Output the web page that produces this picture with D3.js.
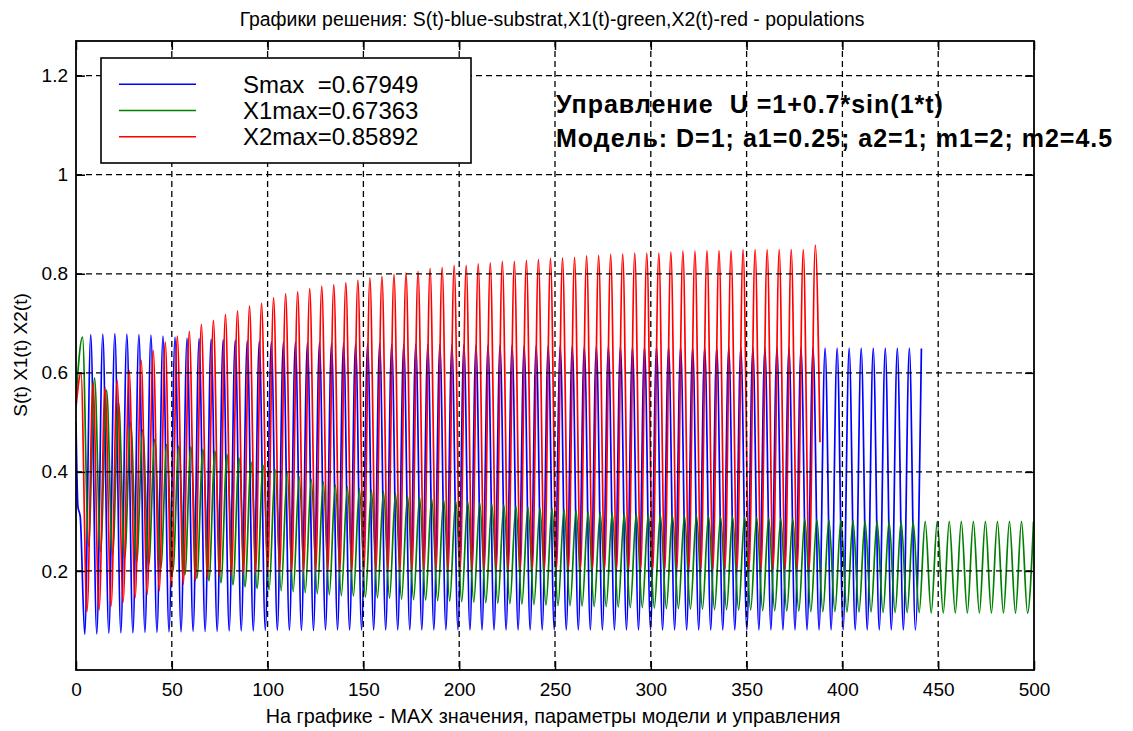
<!DOCTYPE html>
<html>
<head>
<meta charset="utf-8">
<script src="https://cdn.jsdelivr.net/npm/d3@7"></script>
<style>
    body { margin: 0; background: #fff; }
    text { font-family: Arial, "Liberation Sans", sans-serif; fill: #000; }
</style>
</head>
<body>
<script>
"use strict";

// period of the control U = 1+0.7*sin(1*t)
const period = 6.283;

// time of the first peak of every series, and its starting points
const bluePhase  = 7.7;
const greenPhase = 3.4;
const redPhase   = 2.6;
const blueStart  = [[0, 0.50], [1.0, 0.33], [2.2, 0.31]];
const greenStart = [[0, 0.55]];
const redStart   = [[0, 0.53]];
const redEnd     = [[388.3, 0.46]];

// S(t) - blue, per oscillation
const bluePeaks = [
    0.677, 0.678, 0.679, 0.678, 0.677, 0.676, 0.674, 0.672, 0.670, 0.669,
    0.668, 0.667, 0.666, 0.665, 0.664, 0.663, 0.662, 0.662, 0.661, 0.661,
    0.660, 0.660, 0.659, 0.659, 0.659, 0.658, 0.658, 0.658, 0.657, 0.657,
    0.657, 0.657, 0.656, 0.656, 0.656, 0.656, 0.655, 0.655, 0.655, 0.655,
    0.655, 0.654, 0.654, 0.654, 0.654, 0.653, 0.653, 0.653, 0.653, 0.653,
    0.652, 0.652, 0.652, 0.652, 0.652, 0.651, 0.651, 0.651, 0.651, 0.651,
    0.651, 0.650, 0.650, 0.650, 0.650, 0.650, 0.650, 0.650, 0.650, 0.649
];
const blueTroughs = [
    0.072, 0.073, 0.074, 0.075, 0.075, 0.076, 0.076, 0.077, 0.077, 0.078,
    0.078, 0.078, 0.079, 0.079, 0.079, 0.080, 0.080, 0.080, 0.080, 0.080,
    0.081, 0.081, 0.081, 0.081, 0.081, 0.081, 0.081, 0.081, 0.081, 0.081,
    0.081, 0.081, 0.081, 0.081, 0.081, 0.081, 0.081, 0.081, 0.081, 0.081,
    0.081, 0.081, 0.081, 0.081, 0.081, 0.081, 0.081, 0.081, 0.081, 0.081,
    0.081, 0.081, 0.081, 0.081, 0.081, 0.081, 0.081, 0.081, 0.081, 0.081,
    0.081, 0.081, 0.081, 0.081, 0.081, 0.081, 0.081, 0.081, 0.081, 0.081
];

// X1(t) - green
const greenPeaks = [
    0.672, 0.590, 0.565, 0.540, 0.500, 0.485, 0.465, 0.455, 0.452, 0.450,
    0.445, 0.442, 0.435, 0.428, 0.420, 0.413, 0.405, 0.398, 0.390, 0.385,
    0.380, 0.374, 0.370, 0.366, 0.363, 0.360, 0.356, 0.352, 0.349, 0.347,
    0.344, 0.342, 0.340, 0.337, 0.335, 0.333, 0.331, 0.329, 0.327, 0.326,
    0.324, 0.322, 0.320, 0.318, 0.317, 0.316, 0.316, 0.315, 0.314, 0.313,
    0.312, 0.312, 0.311, 0.310, 0.309, 0.309, 0.308, 0.307, 0.306, 0.305,
    0.305, 0.304, 0.303, 0.302, 0.302, 0.301, 0.300, 0.300, 0.300, 0.300,
    0.300, 0.300, 0.300, 0.300, 0.300, 0.300, 0.300, 0.300, 0.300, 0.300
];
const greenTroughs = [
    0.250, 0.240, 0.232, 0.225, 0.218, 0.212, 0.205, 0.198, 0.192, 0.185,
    0.180, 0.176, 0.172, 0.168, 0.165, 0.162, 0.160, 0.158, 0.156, 0.154,
    0.152, 0.150, 0.149, 0.147, 0.146, 0.145, 0.143, 0.142, 0.141, 0.140,
    0.139, 0.138, 0.137, 0.136, 0.135, 0.134, 0.133, 0.132, 0.131, 0.130,
    0.130, 0.129, 0.128, 0.128, 0.127, 0.126, 0.126, 0.125, 0.124, 0.124,
    0.123, 0.123, 0.122, 0.122, 0.121, 0.121, 0.120, 0.120, 0.119, 0.119,
    0.118, 0.118, 0.118, 0.117, 0.117, 0.117, 0.116, 0.116, 0.116, 0.116,
    0.115, 0.115, 0.115, 0.115, 0.115, 0.115, 0.115, 0.115, 0.115
];

// X2(t) - red
const redPeaks = [
    0.600, 0.580, 0.570, 0.585, 0.605, 0.625, 0.645, 0.662, 0.674, 0.684,
    0.698, 0.706, 0.718, 0.725, 0.735, 0.741, 0.752, 0.760, 0.764, 0.770,
    0.775, 0.778, 0.782, 0.787, 0.792, 0.795, 0.799, 0.802, 0.805, 0.811,
    0.813, 0.817, 0.817, 0.820, 0.822, 0.825, 0.825, 0.827, 0.829, 0.831,
    0.832, 0.833, 0.836, 0.837, 0.839, 0.840, 0.842, 0.842, 0.842, 0.844,
    0.846, 0.846, 0.847, 0.847, 0.847, 0.849, 0.849, 0.849, 0.849, 0.849,
    0.849, 0.858
];
const redTroughs = [
    0.118, 0.121, 0.129, 0.137, 0.146, 0.153, 0.160, 0.167, 0.174, 0.180,
    0.185, 0.189, 0.192, 0.194, 0.196, 0.197, 0.198, 0.199, 0.199, 0.200,
    0.200, 0.200, 0.201, 0.201, 0.201, 0.202, 0.202, 0.202, 0.202, 0.203,
    0.203, 0.203, 0.203, 0.203, 0.204, 0.204, 0.204, 0.204, 0.204, 0.204,
    0.205, 0.205, 0.205, 0.205, 0.205, 0.205, 0.205, 0.205, 0.205, 0.205,
    0.205, 0.205, 0.205, 0.205, 0.205, 0.205, 0.205, 0.205, 0.205, 0.205,
    0.205
];

const xTicks = [0, 50, 100, 150, 200, 250, 300, 350, 400, 450, 500];
const yTicks = [0.2, 0.4, 0.6, 0.8, 1, 1.2];
const yTickLabels = ["0.2", "0.4", "0.6", "0.8", "1", "1.2"];
const legendLabels = ["Smax  =0.67949", "X1max=0.67363", "X2max=0.85892"];
const seriesColors = ["#0000ff", "#008000", "#ff0000"];
const titleText = "Графики решения: S(t)-blue-substrat,X1(t)-green,X2(t)-red - populations";
const xLabelText = "На графике - MAX значения, параметры модели и управления";
const yLabelText = "S(t) X1(t) X2(t)";
const noteLines = ["Управление  U =1+0.7*sin(1*t)",
                   "Модель: D=1; a1=0.25; a2=1; m1=2; m2=4.5"];

// ---------------------------------------------------------------
const width = 1133, height = 731;
const plot = { left: 76, top: 41, right: 1034, bottom: 670 };

// troughs sit half a period away from the peaks
function buildSeries(start, phase, peaks, troughs, troughFirst, end) {
    const pts = start.slice();
    peaks.forEach((p, k) => {
        const tp = phase + k * period;
        if (troughFirst) pts.push([tp - period / 2, troughs[k]]);
        pts.push([tp, p]);
        if (!troughFirst && k < troughs.length) pts.push([tp + period / 2, troughs[k]]);
    });
    return pts.concat(end || []);
}

const series = [
    buildSeries(blueStart, bluePhase, bluePeaks, blueTroughs, true),
    buildSeries(greenStart, greenPhase, greenPeaks, greenTroughs, false),
    buildSeries(redStart, redPhase, redPeaks, redTroughs, false, redEnd)
];

const x = d3.scaleLinear().domain([0, 500]).range([plot.left, plot.right]);
const y = d3.scaleLinear().domain([0, 1.27]).range([plot.bottom, plot.top]);

const svg = d3.select("body").append("svg")
              .attr("width", width)
              .attr("height", height);
svg.append("rect").attr("width", width).attr("height", height).attr("fill", "#fff");

svg.append("clipPath").attr("id", "clip")
   .append("rect")
   .attr("x", plot.left).attr("y", plot.top)
   .attr("width", plot.right - plot.left)
   .attr("height", plot.bottom - plot.top);

const line = d3.line()
               .x(d => x(d[0]))
               .y(d => y(d[1]))
               .curve(d3.curveMonotoneX);

svg.append("g")
   .attr("clip-path", "url(#clip)")
   .selectAll("path")
   .data(series)
   .join("path")
   .attr("d", line)
   .attr("fill", "none")
   .attr("stroke", (d, i) => seriesColors[i])
   .attr("stroke-width", 1.7)
   .attr("stroke-linejoin", "round");

// dashed grid, drawn over the curves like the original
const grid = svg.append("g")
                .attr("stroke", "#000")
                .attr("stroke-width", 1.3)
                .attr("stroke-dasharray", "6,4");
grid.selectAll("line.gx")
    .data(xTicks.slice(1, -1))
    .join("line")
    .attr("x1", d => x(d)).attr("x2", d => x(d))
    .attr("y1", plot.top).attr("y2", plot.bottom);
grid.selectAll("line.gy")
    .data(yTicks)
    .join("line")
    .attr("x1", plot.left).attr("x2", plot.right)
    .attr("y1", d => y(d)).attr("y2", d => y(d));

// axes with inward ticks
const tickFont = g => g.selectAll("text")
                       .style("font-family", "Arial, 'Liberation Sans', sans-serif")
                       .style("font-size", "19px")
                       .attr("fill", "#000");
const noDomain = g => g.select(".domain").remove();

svg.append("g")
   .attr("transform", `translate(0,${plot.bottom})`)
   .call(d3.axisBottom(x).tickValues(xTicks).tickSizeInner(-9).tickSizeOuter(0).tickPadding(13))
   .call(noDomain).call(tickFont)
   .selectAll("line").attr("stroke", "#000").attr("stroke-width", 1.5);
svg.append("g")
   .attr("transform", `translate(0,${plot.top})`)
   .call(d3.axisTop(x).tickValues(xTicks).tickSizeInner(-9).tickSizeOuter(0).tickFormat(""))
   .call(noDomain)
   .selectAll("line").attr("stroke", "#000").attr("stroke-width", 1.5);
svg.append("g")
   .attr("transform", `translate(${plot.left},0)`)
   .call(d3.axisLeft(y).tickValues(yTicks).tickSizeInner(-9).tickSizeOuter(0).tickPadding(8)
           .tickFormat((d, i) => yTickLabels[i]))
   .call(noDomain).call(tickFont)
   .selectAll("line").attr("stroke", "#000").attr("stroke-width", 1.5);
svg.append("g")
   .attr("transform", `translate(${plot.right},0)`)
   .call(d3.axisRight(y).tickValues(yTicks).tickSizeInner(-9).tickSizeOuter(0).tickFormat(""))
   .call(noDomain)
   .selectAll("line").attr("stroke", "#000").attr("stroke-width", 1.5);

svg.append("rect")
   .attr("x", plot.left).attr("y", plot.top)
   .attr("width", plot.right - plot.left)
   .attr("height", plot.bottom - plot.top)
   .attr("fill", "none")
   .attr("stroke", "#000")
   .attr("stroke-width", 1.8);

// titles
svg.append("text")
   .attr("x", 552).attr("y", 25.5)
   .attr("text-anchor", "middle")
   .style("font-size", "19.4px")
   .text(titleText);
svg.append("text")
   .attr("x", 553).attr("y", 723)
   .attr("text-anchor", "middle")
   .style("font-size", "19.8px")
   .text(xLabelText);
svg.append("text")
   .attr("transform", "translate(27,355) rotate(-90)")
   .attr("text-anchor", "middle")
   .style("font-size", "19px")
   .text(yLabelText);

// legend
const legend = svg.append("g");
legend.append("rect")
      .attr("x", 101).attr("y", 58)
      .attr("width", 370).attr("height", 105)
      .attr("fill", "#fff")
      .attr("stroke", "#000")
      .attr("stroke-width", 1.6);
const rows = legend.selectAll("g.row")
                   .data(legendLabels)
                   .join("g")
                   .attr("transform", (d, i) => `translate(0,${84.3 + i * 26.2})`);
rows.append("line")
    .attr("x1", 119).attr("x2", 196)
    .attr("stroke", (d, i) => seriesColors[i])
    .attr("stroke-width", 1.5);
rows.append("text")
    .attr("x", 243).attr("y", 8.5)
    .style("font-size", "24px")
    .style("white-space", "pre")
    .text(d => d);

// model / control annotation
svg.selectAll("text.note")
   .data(noteLines)
   .join("text")
   .attr("class", "note")
   .attr("x", 556)
   .attr("y", (d, i) => 113 + i * 33.7)
   .style("font-size", "25px")
   .style("font-weight", "bold")
   .style("letter-spacing", "1px")
   .style("white-space", "pre")
   .text(d => d);
</script>
</body>
</html>
